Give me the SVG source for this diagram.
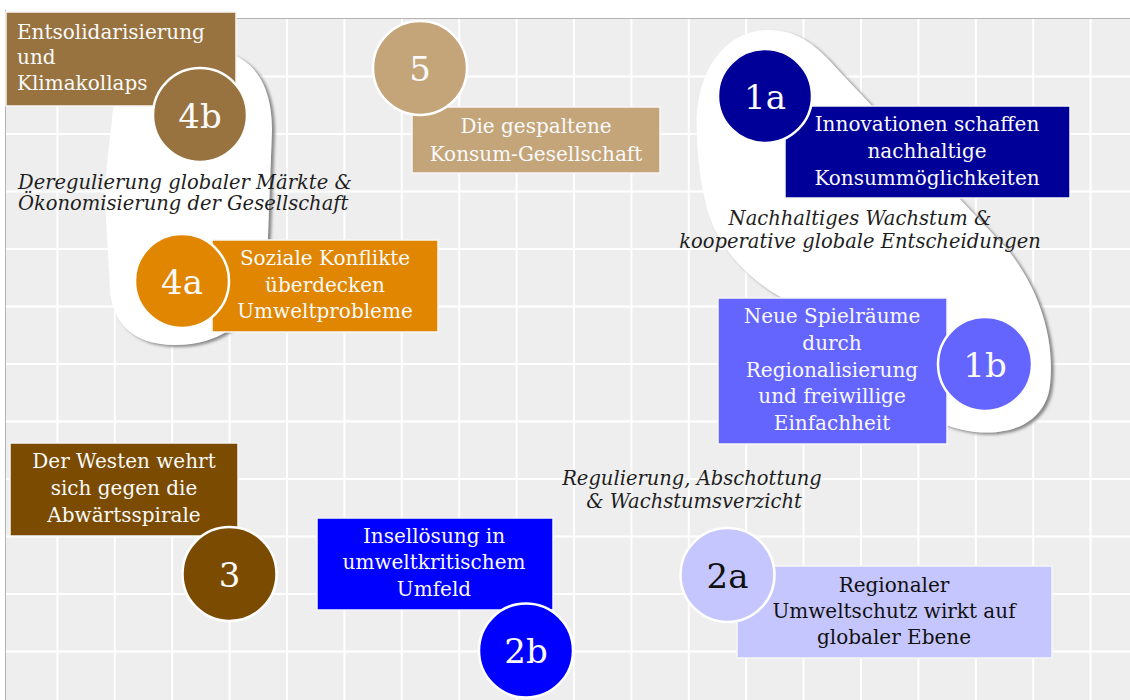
<svg xmlns="http://www.w3.org/2000/svg" width="1130" height="700" viewBox="0 0 1130 700">
<style>
.bg{fill:#eeeeee}
.grid{stroke:#ffffff;stroke-width:2}
.blob{fill:#ffffff;filter:url(#sh)}
.box{stroke:#f6f6f6;stroke-width:1.5}
.circ{stroke:#ffffff;stroke-width:2.5}
.t{font-family:"DejaVu Serif","Liberation Serif",serif;font-size:20px;fill:#fafafa;text-anchor:middle}
.ts{font-family:"DejaVu Serif","Liberation Serif",serif;font-size:20px;fill:#fafafa;text-anchor:start}
.num{font-family:"DejaVu Serif","Liberation Serif",serif;font-size:34px;fill:#fafafa;text-anchor:middle}
.it{font-family:"DejaVu Serif","Liberation Serif",serif;font-style:italic;font-size:19.5px;fill:#1e1e1e;text-anchor:middle}
.itl{font-family:"DejaVu Serif","Liberation Serif",serif;font-style:italic;font-size:19.5px;fill:#1e1e1e;text-anchor:start}
.dark{fill:#111111}
</style>
<defs>
<filter id="sh" x="-10%" y="-10%" width="120%" height="120%">
<feDropShadow dx="3" dy="2" stdDeviation="1.5" flood-color="#777777" flood-opacity="0.85"/>
</filter>
</defs>
<rect x="0" y="0" width="1130" height="700" fill="#ffffff"/>
<rect class="bg" x="6" y="18" width="1124" height="682"/>
<g id="grid" class="grid">
<line x1="57.4" y1="18" x2="57.4" y2="700"/>
<line x1="114.8" y1="18" x2="114.8" y2="700"/>
<line x1="172.2" y1="18" x2="172.2" y2="700"/>
<line x1="229.6" y1="18" x2="229.6" y2="700"/>
<line x1="287" y1="18" x2="287" y2="700"/>
<line x1="344.4" y1="18" x2="344.4" y2="700"/>
<line x1="401.8" y1="18" x2="401.8" y2="700"/>
<line x1="459.2" y1="18" x2="459.2" y2="700"/>
<line x1="516.6" y1="18" x2="516.6" y2="700"/>
<line x1="574" y1="18" x2="574" y2="700"/>
<line x1="631.4" y1="18" x2="631.4" y2="700"/>
<line x1="688.8" y1="18" x2="688.8" y2="700"/>
<line x1="746.2" y1="18" x2="746.2" y2="700"/>
<line x1="803.6" y1="18" x2="803.6" y2="700"/>
<line x1="861" y1="18" x2="861" y2="700"/>
<line x1="918.4" y1="18" x2="918.4" y2="700"/>
<line x1="975.8" y1="18" x2="975.8" y2="700"/>
<line x1="1033.2" y1="18" x2="1033.2" y2="700"/>
<line x1="1090.6" y1="18" x2="1090.6" y2="700"/>
<line x1="6" y1="76.5" x2="1130" y2="76.5"/>
<line x1="6" y1="134" x2="1130" y2="134"/>
<line x1="6" y1="191.5" x2="1130" y2="191.5"/>
<line x1="6" y1="249" x2="1130" y2="249"/>
<line x1="6" y1="306.5" x2="1130" y2="306.5"/>
<line x1="6" y1="364" x2="1130" y2="364"/>
<line x1="6" y1="421.5" x2="1130" y2="421.5"/>
<line x1="6" y1="479" x2="1130" y2="479"/>
<line x1="6" y1="536.5" x2="1130" y2="536.5"/>
<line x1="6" y1="594" x2="1130" y2="594"/>
<line x1="6" y1="651.5" x2="1130" y2="651.5"/>
</g>
<line x1="236" y1="18.5" x2="1130" y2="18.5" stroke="#b4b4b4" stroke-width="1"/>
<line x1="5.5" y1="10" x2="5.5" y2="700" stroke="#b4b4b4" stroke-width="1"/>
<g id="regions">
<path class="blob" d="M112,120 C114,75 160,50 205,50 C250,50 272,80 272,130 L268,235 C266,300 240,345 175,345 C130,345 112,320 110,290 L105,200 C105,170 110,140 112,120 Z"/>
<path class="blob" d="M697,135 C693,72 725,30 768,30 C800,30 818,47 840,72 L1008,250 C1040,290 1055,340 1050,385 C1046,420 1015,436 975,432 C940,428 915,410 885,385 L790,302 C745,280 712,240 705,200 C700,180 698,160 697,135 Z"/>
</g>
<g id="labels">
<text class="itl" x="18" y="189">Deregulierung globaler Märkte &amp;</text>
<text class="itl" x="18" y="210">Ökonomisierung der Gesellschaft</text>
<text class="it" x="860" y="225">Nachhaltiges Wachstum &amp;</text>
<text class="it" x="860" y="248">kooperative globale Entscheidungen</text>
<text class="it" x="692" y="485">Regulierung, Abschottung</text>
<text class="it" x="694" y="508">&amp; Wachstumsverzicht</text>
</g>
<g id="connectors"></g>
<g id="node-4b">
<rect class="box" x="6" y="12" width="230" height="94" fill="#98733f"/>
<text class="ts" x="17" y="39">Entsolidarisierung</text>
<text class="ts" x="17" y="64">und</text>
<text class="ts" x="17" y="90">Klimakollaps</text>
<circle class="circ" cx="200" cy="115" r="47" fill="#98733f"/>
<text class="num" x="200" y="128">4b</text>
</g>
<g id="node-5">
<rect class="box" x="412" y="107" width="248" height="66" fill="#c4a57a"/>
<text class="t" x="536" y="133">Die gespaltene</text>
<text class="t" x="536" y="161">Konsum-Gesellschaft</text>
<circle class="circ" cx="420" cy="68" r="47" fill="#c4a57a"/>
<text class="num" x="420" y="81">5</text>
</g>
<g id="node-1a">
<rect class="box" x="785" y="106" width="285" height="92" fill="#000099"/>
<text class="t" x="927" y="131">Innovationen schaffen</text>
<text class="t" x="927" y="158">nachhaltige</text>
<text class="t" x="927" y="185">Konsummöglichkeiten</text>
<circle class="circ" cx="765" cy="96" r="47" fill="#000099"/>
<text class="num" x="765" y="109">1a</text>
</g>
<g id="node-4a">
<rect class="box" x="212" y="240" width="226" height="92" fill="#e08600"/>
<text class="t" x="325" y="265">Soziale Konflikte</text>
<text class="t" x="325" y="292">überdecken</text>
<text class="t" x="325" y="318">Umweltprobleme</text>
<circle class="circ" cx="182" cy="281" r="47" fill="#e08600"/>
<text class="num" x="182" y="294">4a</text>
</g>
<g id="node-1b">
<rect class="box" x="718" y="298" width="229" height="146" fill="#6464ff"/>
<text class="t" x="832" y="323">Neue Spielräume</text>
<text class="t" x="832" y="350">durch</text>
<text class="t" x="832" y="377">Regionalisierung</text>
<text class="t" x="832" y="403">und freiwillige</text>
<text class="t" x="832" y="430">Einfachheit</text>
<circle class="circ" cx="985" cy="364" r="47" fill="#6464ff"/>
<text class="num" x="985" y="377">1b</text>
</g>
<g id="node-3">
<rect class="box" x="10" y="443" width="228" height="93" fill="#7a4b00"/>
<text class="t" x="124" y="468">Der Westen wehrt</text>
<text class="t" x="124" y="495">sich gegen die</text>
<text class="t" x="124" y="522">Abwärtsspirale</text>
<circle class="circ" cx="229.5" cy="574" r="47" fill="#7a4b00"/>
<text class="num" x="229.5" y="587">3</text>
</g>
<g id="node-2b">
<rect class="box" x="317" y="518" width="236" height="92" fill="#0000ff"/>
<text class="t" x="434" y="543">Insellösung in</text>
<text class="t" x="434" y="569">umweltkritischem</text>
<text class="t" x="434" y="596">Umfeld</text>
<circle class="circ" cx="526" cy="650.5" r="47" fill="#0000ff"/>
<text class="num" x="526" y="663">2b</text>
</g>
<g id="node-2a">
<rect class="box" x="737" y="566" width="315" height="92" fill="#c6c6ff"/>
<text class="t dark" x="894" y="592">Regionaler</text>
<text class="t dark" x="894" y="618">Umweltschutz wirkt auf</text>
<text class="t dark" x="894" y="644">globaler Ebene</text>
<circle class="circ" cx="727.5" cy="575" r="47" fill="#c6c6ff"/>
<text class="num dark" x="727.5" y="588">2a</text>
</g>
</svg>
